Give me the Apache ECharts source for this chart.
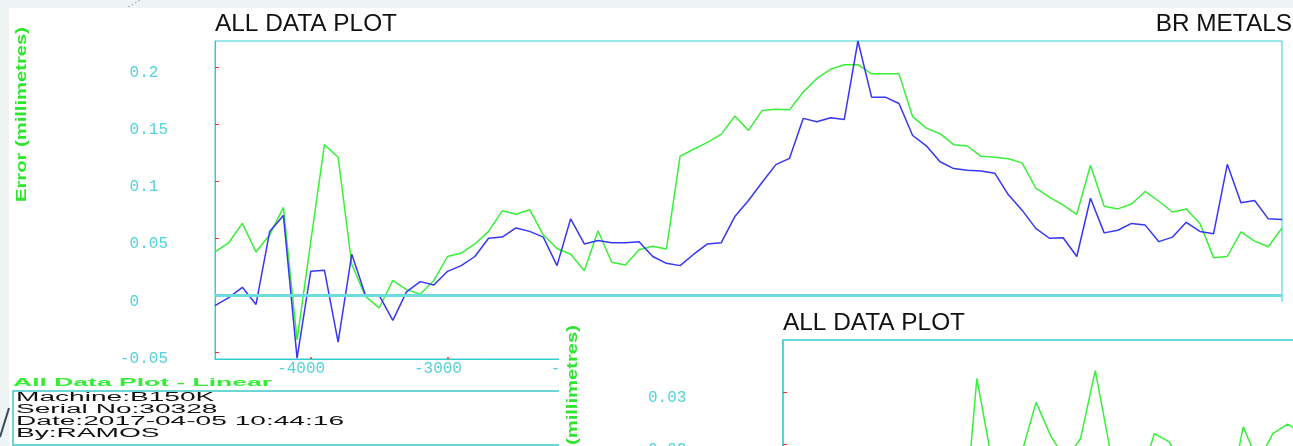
<!DOCTYPE html>
<html><head><meta charset="utf-8">
<script src="https://cdn.jsdelivr.net/npm/echarts@6/dist/echarts.min.js"></script>
<style>
html,body{margin:0;padding:0;background:#eef3f4;width:1293px;height:446px;overflow:hidden}
#bg{position:absolute;left:9px;top:8px;width:1284px;height:438px;background:#fff}
#c{position:absolute;left:0;top:0;width:1293px;height:446px}
</style></head><body>
<div id="bg"></div><div id="c"></div>
<script>
// ---------- data ----------
const positions = [-4700,-4600,-4500,-4400,-4300,-4200,-4100,-4000,-3900,-3800,-3700,-3600,-3500,-3400,-3300,-3200,-3100,-3000,-2900,-2800,-2700,-2600,-2500,-2400,-2300,-2200,-2100,-2000,-1900,-1800,-1700,-1600,-1500,-1400,-1300,-1200,-1100,-1000,-900,-800,-700,-600,-500,-400,-300,-200,-100,0,100,200,300,400,500,600,700,800,900,1000,1100,1200,1300,1400,1500,1600,1700,1800,1900,2000,2100,2200,2300,2400,2500,2600,2700,2800,2900,3000,3100];
const blueError = [-0.009,-0.002,0.007,-0.008,0.056,0.070,-0.055,0.021,0.022,-0.041,0.036,0.000,0.000,-0.022,0.003,0.012,0.009,0.021,0.026,0.034,0.050,0.051,0.059,0.056,0.051,0.026,0.067,0.045,0.048,0.046,0.046,0.047,0.034,0.028,0.026,0.036,0.045,0.046,0.069,0.083,0.099,0.1145,0.120,0.155,0.152,0.1556,0.154,0.2228,0.1736,0.1736,0.168,0.140,0.131,0.117,0.111,0.1095,0.109,0.107,0.088,0.0746,0.0586,0.050,0.0504,0.034,0.085,0.0547,0.057,0.063,0.0615,0.047,0.051,0.064,0.056,0.054,0.1148,0.081,0.083,0.067,0.0665];
const greenError = [0.038,0.046,0.063,0.038,0.053,0.077,-0.039,0.047,0.132,0.121,0.027,-0.001,-0.011,0.013,0.005,0.001,0.013,0.034,0.037,0.045,0.056,0.074,0.071,0.075,0.053,0.041,0.036,0.0215,0.0565,0.029,0.0265,0.040,0.043,0.0405,0.122,0.128,0.134,0.141,0.157,0.1445,0.162,0.163,0.1625,0.178,0.190,0.198,0.202,0.202,0.194,0.194,0.194,0.1565,0.1465,0.1416,0.132,0.1308,0.1218,0.121,0.1197,0.116,0.094,0.086,0.079,0.071,0.114,0.078,0.0757,0.080,0.091,0.0824,0.073,0.0757,0.063,0.033,0.034,0.0556,0.0475,0.0425,0.059];
const secondIndex = [0,1,2,3,4,5,6,7,8,9,10,11,12,13,14,15,16,17,18,19,20,21,22,23,24,25,26,27,28,29,30,31,32,33,34,35,36];
const secondError = [0.010,0.012,0.008,0.011,0.009,0.013,0.010,0.007,0.011,0.012,0.009,0.006,0.000,0.0326,0.017,0.012,0.018,0.028,0.0215,0.017,0.021,0.0341,0.019,0.014,0.013,0.022,0.0204,0.015,0.012,0.014,0.009,0.0233,0.0166,0.022,0.0238,0.022,0.018];
const titleText = 'ALL DATA PLOT';
const companyText = 'BR METALS';
const yAxisTitle = 'Error (millimetres)';
const infoTitle = 'All Data Plot - Linear';
const infoLines = ['Machine:B150K','Serial No:30328','Date:2017-04-05 10:44:16','By:RAMOS'];

// ---------- helpers ----------
const MONO = '"Liberation Mono", "DejaVu Sans Mono", monospace';
const SANS = '"Liberation Sans", Arial, sans-serif';
const CYAN = '#2fcfcf';
const LABEL = '#52d2d8';
const RED = '#ff2a2a';
const GREEN = '#38f038';
const BLUE = '#3636f4';
const ctx = document.createElement('canvas').getContext('2d');
function textW(t, font){ ctx.font = font; return ctx.measureText(t).width; }
function fitScale(t, font, target){ return target / textW(t, font); }
// empty first line pushes the number a few pixels below its tick, as in the original
function fmtY(v){ const s = String(parseFloat(Number(v).toFixed(4))); return '\n' + (v < 0 ? s : ' ' + s); }
// trailing blanks shift the number left of its tick, as in the original
function fmtX(v){ return String(v) + '  '; }

const titleFont = '24px ' + SANS;
const titleScale = fitScale(titleText, titleFont, 182);
const nameFont = 'bold 14px ' + SANS;
const nameScale = fitScale(yAxisTitle, nameFont, 175);
const infoTitleFont = 'bold 11.5px ' + SANS;
const infoTitleScale = fitScale(infoTitle, infoTitleFont, 259);
const infoFont = '12px ' + SANS;
const infoScale = fitScale(infoLines[2], infoFont, 328);

const mainData = (arr) => positions.map((p, i) => [p, arr[i]]);

const chart = echarts.init(document.getElementById('c'), null, {renderer: 'canvas'});
const graphics = [
  {type:'text', x:215, y:24, scaleX:titleScale, z:5, style:{text:titleText, font:titleFont, fill:'#111', align:'left', verticalAlign:'middle'}},
  {type:'text', x:1292, y:24, scaleX:titleScale, z:5, style:{text:companyText, font:titleFont, fill:'#111', align:'right', verticalAlign:'middle'}},
  {type:'text', x:22.5, y:27, rotation:Math.PI/2, scaleX:nameScale, z:5, style:{text:yAxisTitle, font:nameFont, fill:'#2ee52e', align:'right', verticalAlign:'middle'}},
  {type:'text', x:13, y:383, scaleX:infoTitleScale, z:45, style:{text:infoTitle, font:infoTitleFont, fill:'#33ee33', align:'left', verticalAlign:'middle'}},
  {type:'rect', shape:{x:13, y:391, width:600, height:54}, z:40, style:{fill:'#fff', stroke:'#3cc9c9', lineWidth:1.5}},
  {type:'line', shape:{x1:0, y1:437, x2:9, y2:408}, z:5, style:{stroke:'#34495e', lineWidth:2}},
  {type:'line', shape:{x1:128, y1:7, x2:140, y2:0}, z:5, style:{stroke:'#9aa6aa', lineWidth:1, lineDash:[2,2]}},
  {type:'rect', shape:{x:559, y:302, width:740, height:150}, z:50, style:{fill:'#fff'}},
  {type:'text', x:783, y:323.5, scaleX:titleScale, z:55, style:{text:titleText, font:titleFont, fill:'#111', align:'left', verticalAlign:'middle'}},
  {type:'text', x:573, y:325, rotation:Math.PI/2, scaleX:nameScale, z:55, style:{text:yAxisTitle, font:nameFont, fill:'#2ee52e', align:'right', verticalAlign:'middle'}}
];
infoLines.forEach((t, i) => {
  graphics.push({type:'text', x:16, y:397.5 + i * 12, scaleX:infoScale, z:45, style:{text:t, font:infoFont, fill:'#111', align:'left', verticalAlign:'middle'}});
});

const yLabel = (margin) => ({show:true, showMinLabel:false, showMaxLabel:false, align:'left', margin:margin, color:LABEL, fontFamily:MONO, fontSize:16, lineHeight:12, formatter:fmtY});

const option = {
  animation: false,
  backgroundColor: 'transparent',
  grid: [
    {left:215, top:41, width:1067, height:318, show:true, borderColor:CYAN, borderWidth:1, backgroundColor:'transparent', containLabel:false, outerBoundsMode:'none'},
    {left:783, top:340, width:700, height:208, show:true, borderColor:CYAN, borderWidth:1.5, backgroundColor:'transparent', containLabel:false, outerBoundsMode:'none', z:60}
  ],
  xAxis: [
    {type:'value', gridIndex:0, min:-4700, max:3100, splitNumber:8, z:1,
     axisLine:{show:true, onZero:false, lineStyle:{color:CYAN, width:1}},
     axisTick:{show:true, inside:true, length:2, lineStyle:{color:RED, width:1.5}},
     splitLine:{show:false},
     axisLabel:{show:true, showMinLabel:false, showMaxLabel:false, color:LABEL, fontFamily:MONO, fontSize:16, margin:2, formatter:fmtX}},
    {type:'value', gridIndex:1, min:-0.1, max:47.2, z:60, show:true,
     axisLine:{show:false, onZero:false}, axisTick:{show:false}, splitLine:{show:false}, axisLabel:{show:false}}
  ],
  yAxis: [
    {type:'value', gridIndex:0, min:-0.0558, max:0.2228, splitNumber:5, z:1,
     axisLine:{show:true, onZero:false, lineStyle:{color:CYAN, width:1}},
     axisTick:{show:true, inside:true, length:4, lineStyle:{color:RED, width:1}},
     splitLine:{show:false},
     axisLabel:yLabel(95)},
    {type:'value', gridIndex:1, min:0, max:0.04, interval:0.01, z:60,
     axisLine:{show:true, onZero:false, lineStyle:{color:'#4fd3d3', width:1.5}},
     axisTick:{show:true, inside:true, length:4, lineStyle:{color:RED, width:1}},
     splitLine:{show:false},
     axisLabel:yLabel(144.6)}
  ],
  graphic: {elements: graphics},
  series: [
    {type:'line', name:'green', xAxisIndex:0, yAxisIndex:0, z:2, data:mainData(greenError), showSymbol:false, symbol:'none',
     lineStyle:{color:GREEN, width:1.5}, itemStyle:{color:GREEN},
     markLine:{silent:true, symbol:'none', label:{show:false}, lineStyle:{color:'#6cdcdc', width:3, type:'solid'}, data:[{yAxis:0}]}},
    {type:'line', name:'blue', xAxisIndex:0, yAxisIndex:0, z:3, data:mainData(blueError), showSymbol:false, symbol:'none',
     lineStyle:{color:BLUE, width:1.5}, itemStyle:{color:BLUE}},
    {type:'line', name:'second', xAxisIndex:1, yAxisIndex:1, z:60, data:secondIndex.map((k,i)=>[k, secondError[i]]), showSymbol:false, symbol:'none',
     lineStyle:{color:GREEN, width:1.5}, itemStyle:{color:GREEN}}
  ]
};
chart.setOption(option);
</script></body></html>
